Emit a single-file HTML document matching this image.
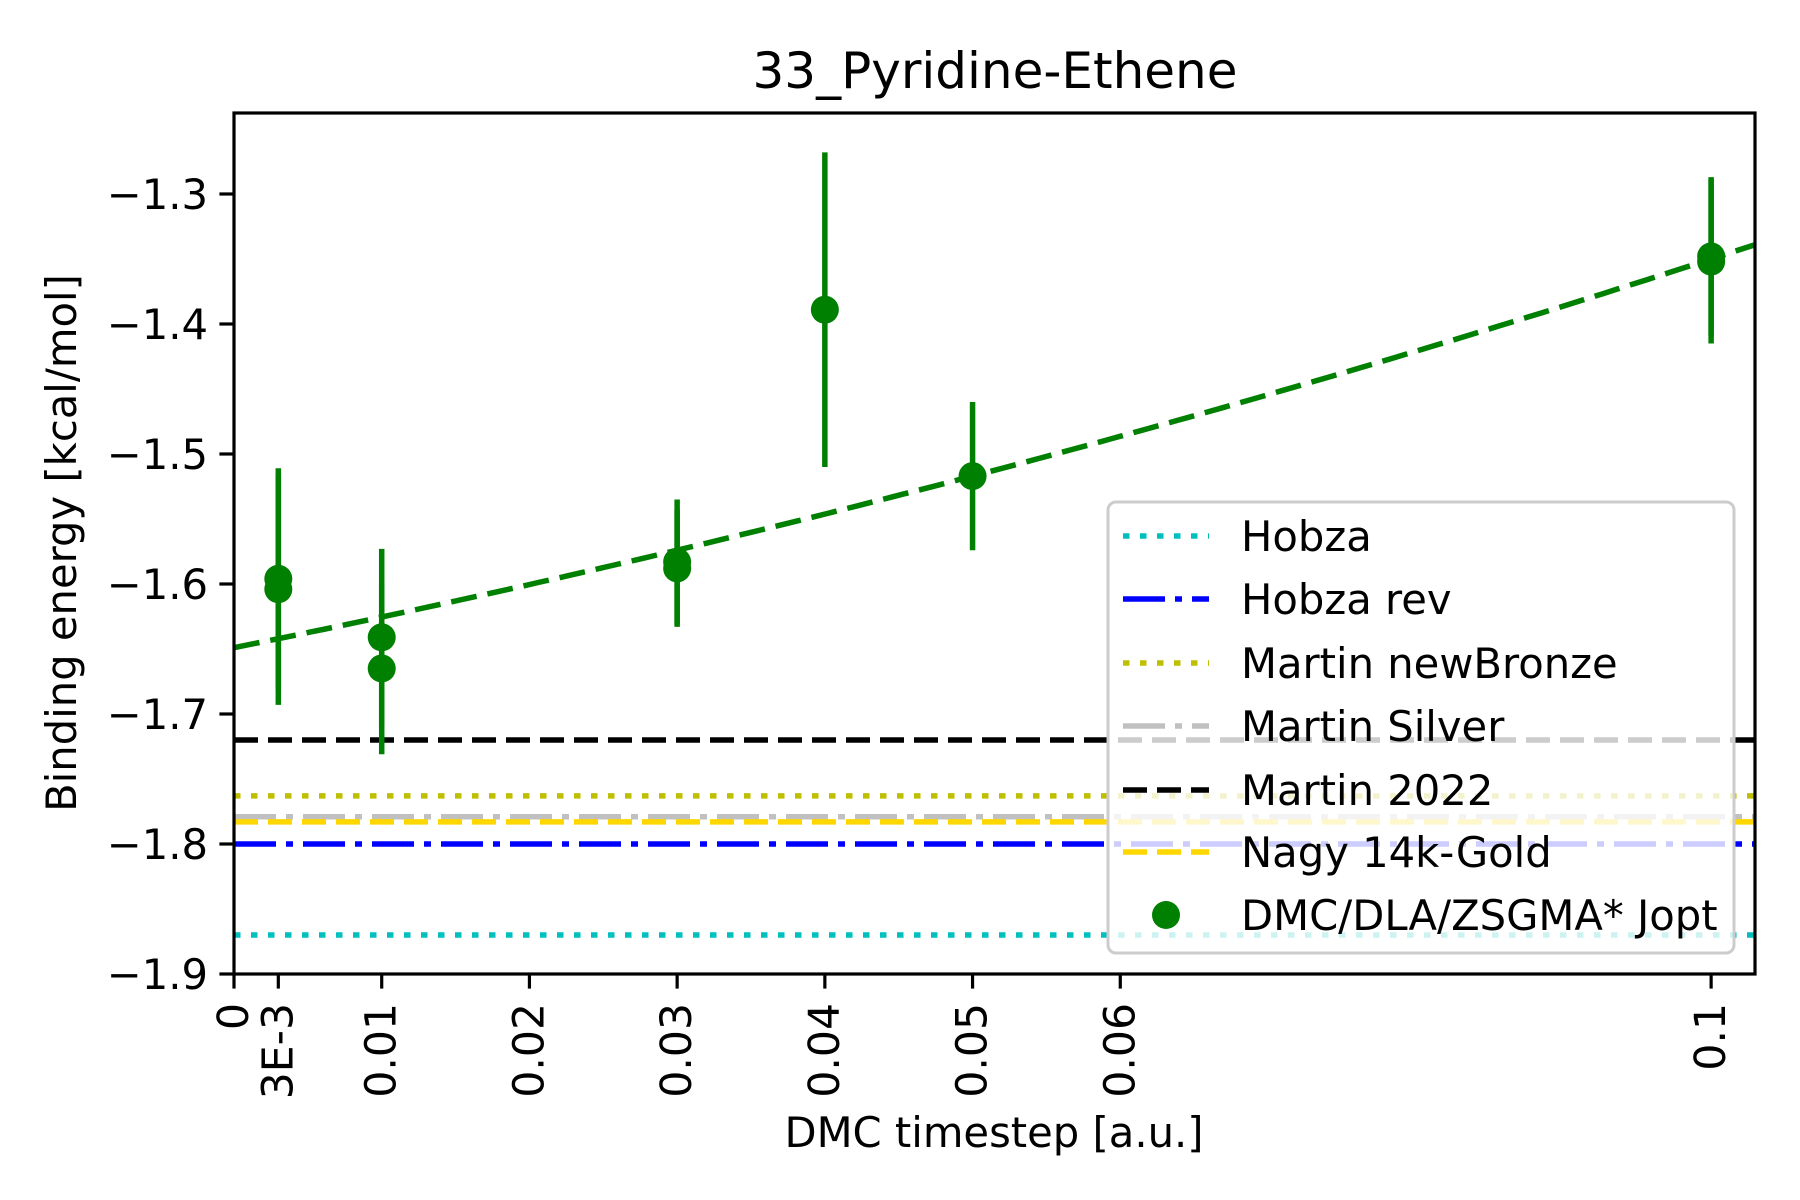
<!DOCTYPE html>
<html><head><meta charset="utf-8"><style>
html,body{margin:0;padding:0;background:#fff}
svg{display:block;font-family:"DejaVu Sans","Liberation Sans",sans-serif}
</style></head><body>
<svg id="chart" width="1800" height="1200" viewBox="0 0 1800 1200">
<text x="995" y="88" font-size="50" text-anchor="middle">33_Pyridine-Ethene</text>
<text x="994" y="1147" font-size="41.7" text-anchor="middle">DMC timestep [a.u.]</text>
<text transform="translate(76,543) rotate(-90)" font-size="41.7" text-anchor="middle">Binding energy [kcal/mol]</text>
<g id="plot"></g>
<g id="axes"></g>
<g id="legend"></g>
</svg>
<script>
const xTicks=[0,0.003,0.01,0.02,0.03,0.04,0.05,0.06,0.1];
const xTickLabels=["0","3E-3","0.01","0.02","0.03","0.04","0.05","0.06","0.1"];
const yTicks=[-1.3,-1.4,-1.5,-1.6,-1.7,-1.8,-1.9];
const yTickLabels=["\u22121.3","\u22121.4","\u22121.5","\u22121.6","\u22121.7","\u22121.8","\u22121.9"];
const dmcX=[0.003,0.003,0.01,0.01,0.03,0.03,0.04,0.05,0.1,0.1];
const dmcY=[-1.596,-1.604,-1.641,-1.665,-1.583,-1.588,-1.389,-1.517,-1.348,-1.352];
const dmcErr=[0.085,0.089,0.068,0.066,0.048,0.045,0.121,0.057,0.061,0.063];
const fitCoef=[-1.649,2.29,7.0];
const refNames=["Hobza","Hobza rev","Martin newBronze","Martin Silver","Martin 2022","Nagy 14k-Gold"];
const refValues=[-1.870,-1.800,-1.763,-1.779,-1.720,-1.783];
const refColors=["#00bfbf","#0000ff","#bfbf00","#c0c0c0","#000000","#ffd700"];
const refDash=["6.5 10.5","42 10 7 10","6.5 10.5","42 10 7 10","24 10","24 10"];

const L=234,R=1755,T=113,B=974,xMin=0,xMax=0.10297,yMin=-1.9,yMax=-1.2377;
const sx=v=>L+(v-xMin)/(xMax-xMin)*(R-L);
const sy=v=>B-(v-yMin)/(yMax-yMin)*(B-T);
const NS="http://www.w3.org/2000/svg";
function mk(tag,attrs,parent){const e=document.createElementNS(NS,tag);for(const k in attrs)e.setAttribute(k,attrs[k]);parent.appendChild(e);return e;}
const plot=document.getElementById('plot'),axes=document.getElementById('axes'),leg=document.getElementById('legend');
const LW=5.5;
refValues.forEach((v,i)=>{
 const l=mk('line',{x1:L,x2:R,y1:sy(v),y2:sy(v),stroke:refColors[i],'stroke-width':LW,'stroke-dasharray':refDash[i]},plot);
 
 
});
let d='';
for(let k=0;k<=100;k++){const x=xMin+(xMax-xMin)*k/100;const y=fitCoef[0]+fitCoef[1]*x+fitCoef[2]*x*x;d+=(k?'L':'M')+sx(x).toFixed(1)+','+sy(y).toFixed(1);}
const fit=mk('path',{d:d,fill:'none',stroke:'#008000','stroke-width':LW,'stroke-dasharray':'26 11'},plot);


dmcX.forEach((x,i)=>{
 const e=mk('line',{x1:sx(x),x2:sx(x),y1:sy(dmcY[i]-dmcErr[i]),y2:sy(dmcY[i]+dmcErr[i]),stroke:'#008000','stroke-width':LW},plot);
 
 
});
dmcX.forEach((x,i)=>{
 const c=mk('circle',{cx:sx(x),cy:sy(dmcY[i]),r:14,fill:'#008000'},plot);
 
 
});
const frame=mk('rect',{x:L,y:T,width:R-L,height:B-T,fill:'none',stroke:'#000','stroke-width':3.2},axes);


xTicks.forEach((v,i)=>{
 mk('line',{x1:sx(v),x2:sx(v),y1:B,y2:B+14.6,stroke:'#000','stroke-width':3.2},axes);
 const t=mk('text',{transform:`translate(${sx(v)+14},${B+29}) rotate(-90)`,'font-size':42.5,'text-anchor':'end'},axes);
 t.textContent=xTickLabels[i];
 
 
});
yTicks.forEach((v,i)=>{
 mk('line',{x1:L-14.6,x2:L,y1:sy(v),y2:sy(v),stroke:'#000','stroke-width':3.2},axes);
 const t=mk('text',{x:L-26,y:sy(v)+15,'font-size':41.7,'text-anchor':'end'},axes);
 t.textContent=yTickLabels[i];
 
 
});
const box=mk('rect',{x:1108,y:502,width:626,height:451,rx:8,fill:'#fff','fill-opacity':0.8,stroke:'#cccccc','stroke-width':3},leg);


const rowsY=[536,599,663,726,790,852,915];
refNames.forEach((n,i)=>{
 const y=rowsY[i];
 mk('line',{x1:1123,x2:1209,y1:y,y2:y,stroke:refColors[i],'stroke-width':LW,'stroke-dasharray':refDash[i]},leg);
 const t=mk('text',{x:1241,y:y+15,'font-size':41.7},leg);
 t.textContent=n;
 
 
});
mk('circle',{cx:1166,cy:rowsY[6],r:14,fill:'#008000'},leg);
const lt=mk('text',{x:1241,y:rowsY[6]+15,'font-size':41.7},leg);
lt.textContent='DMC/DLA/ZSGMA* Jopt';


</script>
</body></html>
